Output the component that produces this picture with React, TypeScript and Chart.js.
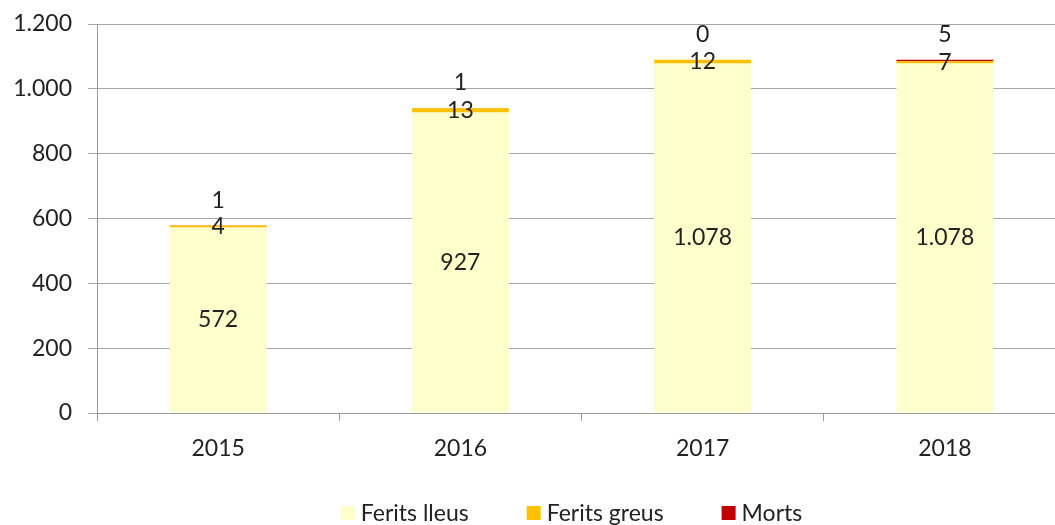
import React, { useEffect, useRef } from "react";
import { Chart, registerables } from "chart.js";

Chart.register(...registerables);

const categories = ["2015", "2016", "2017", "2018"];
const seriesNames = ["Ferits lleus", "Ferits greus", "Morts"];
const feritsLleus = [572, 927, 1078, 1078];
const feritsGreus = [4, 13, 12, 7];
const morts = [1, 1, 0, 5];
const seriesColors = ["#FFFFCC", "#FFC000", "#C00000"];
const yTicks = [0, 200, 400, 600, 800, 1000, 1200];

const FONT = "Lato, 'Open Sans', sans-serif";
const FS = 23;
const fmt = (v: number) => String(Math.round(v)).replace(/\B(?=(\d{3})+(?!\d))/g, ".");

const labelPlugin = {
  id: "barLabels",
  afterDatasetsDraw(chart: any) {
    const ctx = chart.ctx;
    ctx.save();
    ctx.font = `${FS}px ${FONT}`;
    ctx.fillStyle = "#222";
    ctx.textAlign = "center";
    ctx.textBaseline = "middle";
    chart.data.datasets.forEach((ds: any, i: number) => {
      const meta = chart.getDatasetMeta(i);
      meta.data.forEach((bar: any, j: number) => {
        const v = ds.data[j];
        let y: number;
        if (i === 2) y = Math.min(bar.y, bar.base) - 25;
        else y = (bar.y + bar.base) / 2;
        ctx.fillText(fmt(v), bar.x, y);
      });
    });
    ctx.restore();
  },
};

const legendPlugin = {
  id: "bottomLegend",
  afterDraw(chart: any) {
    const ctx = chart.ctx;
    ctx.save();
    ctx.font = `${FS}px ${FONT}`;
    ctx.textBaseline = "middle";
    ctx.textAlign = "left";
    const box = 14;
    const gapText = 6;
    const gapItem = 58;
    const items = chart.data.datasets.map((ds: any) => ({
      label: ds.label,
      color: ds.backgroundColor,
      w: box + gapText + ctx.measureText(ds.label).width,
    }));
    const total = items.reduce((a: number, it: any) => a + it.w, 0) + gapItem * (items.length - 1);
    const ca = chart.chartArea;
    let x = (ca.left + ca.right) / 2 - 10 - total / 2;
    const y = chart.height - 12;
    items.forEach((it: any) => {
      ctx.fillStyle = it.color;
      ctx.fillRect(x, y - box / 2, box, box);
      ctx.fillStyle = "#222";
      ctx.fillText(it.label, x + box + gapText, y + 1);
      x += it.w + gapItem;
    });
    ctx.restore();
  },
};

export default function App() {
  const ref = useRef<HTMLCanvasElement>(null);
  useEffect(() => {
    if (!ref.current) return;
    const data = [feritsLleus, feritsGreus, morts];
    const chart = new Chart(ref.current, {
      type: "bar",
      data: {
        labels: categories,
        datasets: seriesNames.map((name, i) => ({
          label: name,
          data: data[i],
          backgroundColor: seriesColors[i],
          minBarLength: i === 1 ? 2 : 0,
        })),
      },
      options: {
        responsive: false,
        animation: false,
        layout: { padding: { top: 5, left: 0, right: 2, bottom: 62 } },
        datasets: { bar: { barPercentage: 0.4, categoryPercentage: 1, borderWidth: 0 } },
        plugins: {
          legend: { display: false },
          tooltip: { enabled: false },
        },
        scales: {
          x: {
            stacked: true,
            offset: true,
            grid: { display: true, drawOnChartArea: false, tickLength: 8, color: "#999", offset: true },
            border: { display: true, color: "#999", width: 1 },
            ticks: { font: { family: FONT, size: FS }, color: "#222", padding: 14 },
            afterFit: (s: any) => { s.height = 50; },
          },
          y: {
            stacked: true,
            min: 0,
            max: 1200,
            afterBuildTicks: (s: any) => { s.ticks = yTicks.map((v) => ({ value: v })); },
            grid: { color: "#a6a6a6", tickLength: 9 },
            border: { display: true, color: "#999", width: 1 },
            ticks: {
              font: { family: FONT, size: FS, lineHeight: 0.7 },
              color: "#222",
              padding: 16,
              callback: (v: any) => fmt(Number(v)),
            },
            afterFit: (s: any) => { s.width = 97; },
          },
        },
      },
      plugins: [labelPlugin, legendPlugin],
    });
    return () => chart.destroy();
  }, []);
  return (
    <div style={{ position: "fixed", left: 0, top: 0, width: 1055, height: 525, overflow: "hidden", background: "#fff" }}>
      <canvas ref={ref} width={1068} height={525} style={{ width: 1068, height: 525, display: "block" }} />
    </div>
  );
}
